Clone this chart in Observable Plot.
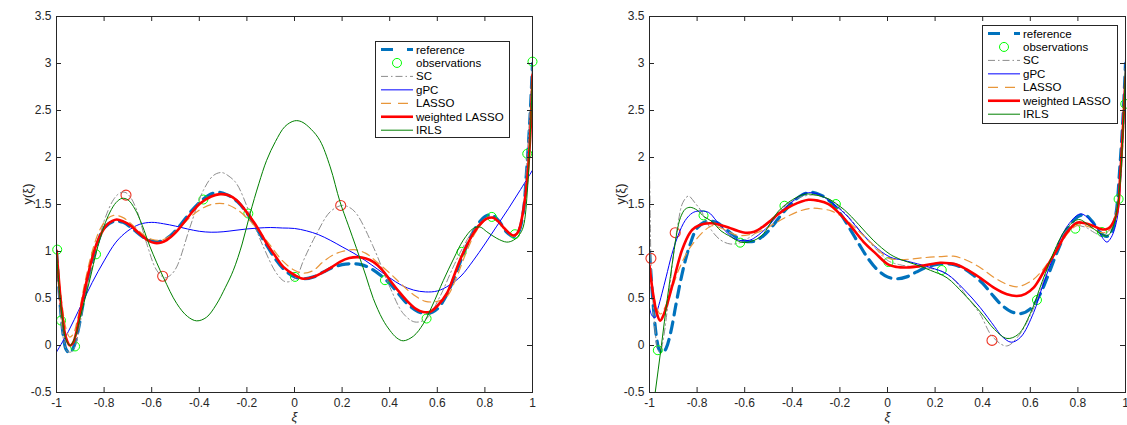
<!DOCTYPE html>
<html><head><meta charset="utf-8">
<script src="https://cdn.jsdelivr.net/npm/d3@7"></script>
<script src="https://cdn.jsdelivr.net/npm/@observablehq/plot@0.6"></script>
<style>
body{margin:0;background:#fff;}
#wrap{position:relative;width:1127px;height:425px;overflow:hidden;background:#fff;}
#wrap svg{position:absolute;top:0;}
</style></head><body><div id="wrap"></div>
<script>
const xTicks = [-1,-0.8,-0.6,-0.4,-0.2,0,0.2,0.4,0.6,0.8,1];
const yTicks = [-0.5,0,0.5,1,1.5,2,2.5,3,3.5];
const legendLabels = ["reference","observations","SC","gPC","LASSO","weighted LASSO","IRLS"];

// reference function (same in both panels)
const reference = [[-1,1.0],[-0.99,0.62],[-0.98,0.3],[-0.97,0.08],[-0.96,-0.04],[-0.945,-0.08],[-0.93,-0.03],[-0.91,0.15],[-0.89,0.42],[-0.87,0.68],[-0.85,0.9],[-0.83,1.07],[-0.8,1.25],[-0.76,1.32],[-0.72,1.31],[-0.68,1.24],[-0.64,1.16],[-0.6,1.11],[-0.56,1.11],[-0.52,1.17],[-0.48,1.28],[-0.44,1.41],[-0.4,1.52],[-0.36,1.6],[-0.32,1.63],[-0.28,1.6],[-0.24,1.53],[-0.2,1.41],[-0.16,1.25],[-0.12,1.08],[-0.08,0.92],[-0.04,0.8],[0,0.73],[0.04,0.71],[0.08,0.73],[0.12,0.78],[0.16,0.83],[0.2,0.86],[0.24,0.87],[0.28,0.86],[0.32,0.82],[0.36,0.75],[0.4,0.66],[0.44,0.54],[0.48,0.43],[0.52,0.36],[0.56,0.34],[0.6,0.39],[0.64,0.54],[0.68,0.78],[0.72,1.04],[0.76,1.25],[0.8,1.37],[0.83,1.39],[0.86,1.32],[0.89,1.21],[0.92,1.16],[0.94,1.2],[0.96,1.4],[0.975,1.85],[0.99,2.45],[1,3.0]];

// left panel
const leftObs = [[-0.997,1.02],[-0.981,0.266],[-0.922,-0.01],[-0.834,0.97],[-0.383,1.553],[-0.194,1.404],[0.002,0.73],[0.38,0.695],[0.555,0.287],[0.702,0.996],[0.829,1.368],[0.926,1.184],[0.978,2.04],[1.0,3.02]];
const leftOutliers = [[-0.708,1.60],[-0.554,0.737],[0.194,1.49]];
const leftSC = [[-1,1.02],[-0.99,0.55],[-0.981,0.27],[-0.97,0.06],[-0.955,-0.06],[-0.94,-0.07],[-0.922,-0.01],[-0.9,0.25],[-0.87,0.64],[-0.834,0.97],[-0.803,1.3],[-0.761,1.55],[-0.735,1.62],[-0.712,1.63],[-0.69,1.58],[-0.663,1.44],[-0.621,1.085],[-0.579,0.8],[-0.545,0.72],[-0.52,0.75],[-0.495,0.836],[-0.439,1.26],[-0.383,1.65],[-0.34,1.81],[-0.306,1.84],[-0.275,1.8],[-0.243,1.72],[-0.187,1.40],[-0.131,1.05],[-0.075,0.766],[-0.04,0.68],[-0.01,0.69],[0.015,0.76],[0.037,0.9],[0.093,1.19],[0.149,1.42],[0.198,1.49],[0.23,1.47],[0.261,1.40],[0.331,1.05],[0.401,0.62],[0.457,0.34],[0.506,0.25],[0.555,0.287],[0.611,0.52],[0.667,0.836],[0.709,1.05],[0.75,1.22],[0.8,1.35],[0.83,1.37],[0.88,1.25],[0.92,1.17],[0.95,1.3],[0.978,2.04],[1,3.02]];
const leftGPC = [[-1,-0.07],[-0.95,0.15],[-0.9,0.41],[-0.85,0.67],[-0.8,0.9],[-0.75,1.1],[-0.7,1.22],[-0.65,1.29],[-0.6,1.31],[-0.55,1.295],[-0.5,1.27],[-0.45,1.24],[-0.4,1.215],[-0.35,1.205],[-0.3,1.21],[-0.25,1.225],[-0.2,1.24],[-0.15,1.25],[-0.1,1.255],[-0.05,1.25],[0,1.245],[0.05,1.22],[0.1,1.18],[0.15,1.12],[0.2,1.05],[0.25,0.98],[0.3,0.9],[0.35,0.81],[0.4,0.72],[0.45,0.64],[0.5,0.59],[0.55,0.57],[0.6,0.58],[0.65,0.64],[0.7,0.74],[0.75,0.9],[0.8,1.08],[0.85,1.27],[0.9,1.46],[0.95,1.66],[1,1.865]];
const leftLASSO = [[-1,0.95],[-0.98,0.5],[-0.96,0.18],[-0.945,0.09],[-0.93,0.12],[-0.91,0.3],[-0.88,0.68],[-0.85,1.0],[-0.82,1.22],[-0.79,1.34],[-0.76,1.385],[-0.72,1.36],[-0.68,1.28],[-0.64,1.19],[-0.6,1.13],[-0.56,1.12],[-0.52,1.17],[-0.48,1.26],[-0.44,1.36],[-0.4,1.44],[-0.35,1.5],[-0.3,1.51],[-0.25,1.46],[-0.2,1.36],[-0.15,1.22],[-0.1,1.06],[-0.05,0.9],[0,0.8],[0.04,0.77],[0.08,0.8],[0.12,0.89],[0.16,0.96],[0.2,1.0],[0.25,1.02],[0.3,0.98],[0.35,0.88],[0.4,0.77],[0.45,0.65],[0.5,0.54],[0.55,0.47],[0.6,0.47],[0.64,0.52],[0.68,0.72],[0.72,0.98],[0.76,1.2],[0.8,1.33],[0.83,1.36],[0.87,1.27],[0.9,1.19],[0.92,1.16],[0.94,1.2],[0.96,1.4],[0.98,1.9],[1,2.85]];
const leftWLASSO = [[-1,1.01],[-0.99,0.7],[-0.978,0.375],[-0.96,0.08],[-0.943,0.0],[-0.93,0.03],[-0.915,0.16],[-0.9,0.36],[-0.873,0.69],[-0.85,0.93],[-0.831,1.085],[-0.81,1.2],[-0.789,1.28],[-0.765,1.325],[-0.747,1.34],[-0.72,1.32],[-0.691,1.28],[-0.66,1.21],[-0.635,1.155],[-0.61,1.11],[-0.586,1.09],[-0.56,1.095],[-0.537,1.12],[-0.5,1.2],[-0.467,1.3],[-0.43,1.42],[-0.397,1.51],[-0.35,1.585],[-0.313,1.61],[-0.28,1.6],[-0.243,1.545],[-0.187,1.37],[-0.15,1.23],[-0.117,1.085],[-0.08,0.95],[-0.047,0.836],[0,0.75],[0.037,0.71],[0.08,0.73],[0.121,0.78],[0.16,0.84],[0.191,0.89],[0.23,0.93],[0.268,0.94],[0.3,0.925],[0.331,0.89],[0.37,0.8],[0.401,0.695],[0.44,0.57],[0.471,0.48],[0.51,0.39],[0.541,0.357],[0.57,0.36],[0.6,0.42],[0.64,0.553],[0.67,0.74],[0.695,0.907],[0.725,1.07],[0.751,1.19],[0.78,1.29],[0.808,1.35],[0.835,1.36],[0.86,1.31],[0.877,1.26],[0.9,1.2],[0.919,1.17],[0.935,1.19],[0.947,1.26],[0.962,1.45],[0.976,1.72],[0.99,2.2],[1,2.88]];
const leftIRLS = [[-1,1.0],[-0.99,0.65],[-0.975,0.28],[-0.96,0.06],[-0.943,0.0],[-0.925,0.07],[-0.9,0.3],[-0.88,0.5],[-0.859,0.71],[-0.83,1.02],[-0.8,1.27],[-0.775,1.42],[-0.75,1.52],[-0.725,1.565],[-0.7,1.55],[-0.67,1.45],[-0.64,1.28],[-0.607,1.05],[-0.55,0.72],[-0.495,0.447],[-0.45,0.31],[-0.411,0.262],[-0.37,0.3],[-0.33,0.43],[-0.29,0.62],[-0.257,0.8],[-0.22,1.08],[-0.187,1.4],[-0.15,1.72],[-0.117,1.97],[-0.08,2.17],[-0.04,2.33],[0,2.39],[0.03,2.38],[0.07,2.3],[0.107,2.18],[0.15,1.9],[0.191,1.53],[0.226,1.28],[0.261,1.03],[0.3,0.74],[0.331,0.5],[0.37,0.28],[0.401,0.16],[0.43,0.08],[0.457,0.05],[0.5,0.1],[0.541,0.23],[0.58,0.43],[0.625,0.69],[0.67,0.93],[0.709,1.12],[0.751,1.245],[0.78,1.26],[0.808,1.21],[0.85,1.14],[0.892,1.1],[0.92,1.12],[0.945,1.18],[0.961,1.26],[0.98,1.7],[1,2.9]];

// right panel
const rightObs = [[-0.965,-0.05],[-0.773,1.384],[-0.619,1.094],[-0.433,1.487],[-0.217,1.505],[0.004,0.888],[0.228,0.803],[0.628,0.484],[0.789,1.243],[0.901,1.207],[0.971,1.558],[0.999,2.57]];
const rightOutliers = [[-0.994,0.927],[-0.892,1.20],[0.439,0.054]];
const rightSC = [[-1,1.9],[-0.997,1.4],[-0.994,0.93],[-0.985,0.45],[-0.975,0.12],[-0.965,-0.05],[-0.955,-0.06],[-0.94,0.1],[-0.92,0.5],[-0.9,0.95],[-0.88,1.3],[-0.86,1.52],[-0.836,1.59],[-0.81,1.52],[-0.78,1.42],[-0.738,1.22],[-0.7,1.12],[-0.661,1.08],[-0.619,1.094],[-0.58,1.15],[-0.5,1.3],[-0.45,1.44],[-0.4,1.54],[-0.35,1.59],[-0.3,1.6],[-0.25,1.56],[-0.217,1.505],[-0.15,1.33],[-0.1,1.17],[-0.05,1.03],[0.004,0.9],[0.05,0.86],[0.1,0.84],[0.15,0.83],[0.2,0.81],[0.228,0.79],[0.28,0.7],[0.33,0.53],[0.389,0.335],[0.439,0.1],[0.5,-0.005],[0.55,0.1],[0.6,0.32],[0.628,0.484],[0.68,0.86],[0.73,1.15],[0.781,1.27],[0.83,1.26],[0.87,1.2],[0.907,1.165],[0.94,1.28],[0.971,1.558],[0.99,2.2],[1,3.0]];
const rightGPC = [[-1,0.4],[-0.99,0.32],[-0.976,0.296],[-0.965,0.39],[-0.948,0.55],[-0.93,0.73],[-0.906,0.97],[-0.88,1.17],[-0.85,1.33],[-0.82,1.41],[-0.794,1.43],[-0.752,1.416],[-0.72,1.33],[-0.682,1.22],[-0.645,1.14],[-0.612,1.115],[-0.58,1.12],[-0.556,1.15],[-0.5,1.27],[-0.458,1.4],[-0.4,1.53],[-0.346,1.62],[-0.29,1.61],[-0.24,1.53],[-0.178,1.4],[-0.12,1.23],[-0.06,1.07],[0.011,0.94],[0.06,0.91],[0.109,0.88],[0.18,0.83],[0.25,0.76],[0.32,0.6],[0.389,0.405],[0.45,0.2],[0.48,0.1],[0.52,0.035],[0.56,0.09],[0.614,0.35],[0.65,0.62],[0.698,0.95],[0.75,1.25],[0.81,1.4],[0.85,1.34],[0.88,1.25],[0.905,1.14],[0.922,1.1],[0.94,1.15],[0.964,1.34],[0.98,1.8],[1,3.05]];
const rightLASSO = [[-1,0.8],[-0.98,0.5],[-0.965,0.37],[-0.955,0.335],[-0.94,0.38],[-0.91,0.57],[-0.878,0.8],[-0.84,1.0],[-0.808,1.115],[-0.77,1.22],[-0.738,1.274],[-0.7,1.25],[-0.66,1.2],[-0.626,1.17],[-0.58,1.18],[-0.528,1.22],[-0.48,1.29],[-0.43,1.36],[-0.37,1.43],[-0.318,1.46],[-0.27,1.45],[-0.234,1.43],[-0.18,1.35],[-0.122,1.22],[-0.06,1.07],[0.004,0.93],[0.05,0.915],[0.1,0.92],[0.151,0.934],[0.22,0.945],[0.277,0.95],[0.33,0.91],[0.389,0.83],[0.45,0.72],[0.502,0.65],[0.545,0.625],[0.6,0.68],[0.642,0.775],[0.712,1.02],[0.76,1.2],[0.8,1.28],[0.85,1.26],[0.9,1.2],[0.93,1.22],[0.96,1.4],[0.98,1.85],[1,3.0]];
const rightWLASSO = [[-1,0.85],[-0.985,0.55],[-0.97,0.35],[-0.955,0.264],[-0.94,0.33],[-0.906,0.62],[-0.864,1.01],[-0.83,1.2],[-0.808,1.256],[-0.77,1.295],[-0.738,1.3],[-0.7,1.28],[-0.668,1.256],[-0.63,1.22],[-0.598,1.2],[-0.56,1.21],[-0.528,1.256],[-0.49,1.33],[-0.458,1.4],[-0.4,1.49],[-0.332,1.55],[-0.29,1.54],[-0.248,1.505],[-0.2,1.4],[-0.15,1.256],[-0.1,1.1],[-0.05,0.98],[0.004,0.86],[0.04,0.835],[0.081,0.83],[0.15,0.85],[0.221,0.88],[0.26,0.875],[0.292,0.86],[0.34,0.8],[0.389,0.72],[0.45,0.61],[0.502,0.545],[0.544,0.527],[0.58,0.55],[0.614,0.615],[0.66,0.8],[0.712,1.02],[0.75,1.19],[0.796,1.306],[0.83,1.3],[0.866,1.27],[0.895,1.24],[0.915,1.235],[0.935,1.26],[0.964,1.41],[0.978,1.82],[1,2.85]];
const rightIRLS = [[-1,-0.97],[-0.976,-0.5],[-0.95,0.0],[-0.925,0.5],[-0.9,0.95],[-0.885,1.2],[-0.87,1.36],[-0.85,1.45],[-0.829,1.47],[-0.8,1.44],[-0.77,1.37],[-0.738,1.32],[-0.7,1.22],[-0.668,1.17],[-0.612,1.097],[-0.57,1.11],[-0.528,1.17],[-0.458,1.43],[-0.4,1.55],[-0.346,1.61],[-0.3,1.6],[-0.248,1.56],[-0.18,1.44],[-0.122,1.29],[-0.06,1.12],[0.011,0.97],[0.06,0.91],[0.12,0.86],[0.18,0.8],[0.25,0.72],[0.32,0.55],[0.389,0.36],[0.45,0.17],[0.502,0.075],[0.55,0.12],[0.6,0.34],[0.65,0.68],[0.7,1.0],[0.75,1.24],[0.803,1.34],[0.85,1.27],[0.89,1.2],[0.922,1.165],[0.945,1.24],[0.97,1.55],[0.99,2.3],[1,3.0]];

const FONT = "'Liberation Sans', Arial, Helvetica, sans-serif";
const INK = "#262626";
const styles = [
  {stroke: "#0072BD", strokeWidth: 3.2, dash: "11,7", legendDash: "12,14"},
  {circle: true, stroke: "#00ff00"},
  {stroke: "#8c8c8c", strokeWidth: 1, dash: "7,3,1.5,3", legendDash: "7,3,1.5,3"},
  {stroke: "#0000ff", strokeWidth: 1},
  {stroke: "#E8963A", strokeWidth: 1.2, dash: "8,5", legendDash: "10,7"},
  {stroke: "#ff0000", strokeWidth: 2.6},
  {stroke: "#008000", strokeWidth: 1}
];
const OUTLIER = "#EE3322";
const W = 476, H = 376;

function lineMark(data, st) {
  return Plot.line(data, {x: d => d[0], y: d => d[1], curve: "catmull-rom", stroke: st.stroke,
    strokeWidth: st.strokeWidth, strokeDasharray: st.dash || null, clip: true});
}

function makePanel(p) {
  const svg = Plot.plot({
    width: p.width, height: 425,
    marginTop: 16, marginBottom: 33, marginLeft: 56, marginRight: p.width - 56 - W,
    style: {fontFamily: FONT, fontSize: "12px", color: INK, background: "white"},
    x: {domain: [-1, 1]},
    y: {domain: [-0.5, 3.5]},
    marks: [
      lineMark(p.ref, styles[0]),
      Plot.dot(p.obs, {x: d => d[0], y: d => d[1], r: 4.5, stroke: styles[1].stroke, strokeWidth: 1, fill: "none"}),
      Plot.dot(p.out, {x: d => d[0], y: d => d[1], r: 5, stroke: OUTLIER, strokeWidth: 1.1, fill: "none"}),
      lineMark(p.sc, styles[2]),
      lineMark(p.gpc, styles[3]),
      lineMark(p.lasso, styles[4]),
      lineMark(p.wlasso, styles[5]),
      lineMark(p.irls, styles[6]),
      Plot.frame({stroke: INK}),
      Plot.ruleX(xTicks, {x: d => d, insetTop: H - 5, stroke: INK}),
      Plot.ruleX(xTicks, {x: d => d, insetBottom: H - 5, stroke: INK}),
      Plot.ruleY(yTicks, {y: d => d, insetRight: W - 5, stroke: INK}),
      Plot.ruleY(yTicks, {y: d => d, insetLeft: W - 5, stroke: INK}),
      Plot.axisX({ticks: xTicks, tickSize: 0, tickPadding: 6, tickFormat: d => String(d), label: null, fill: INK, fontSize: 12}),
      Plot.axisY({ticks: yTicks, tickSize: 0, tickPadding: 5, tickFormat: d => String(d), label: null, fill: INK, fontSize: 12}),
      Plot.text(["y(ξ)"], {text: d => d, frameAnchor: "left", dx: -29, rotate: -90, fill: INK, fontSize: 13}),
      Plot.text(["ξ"], {text: d => d, frameAnchor: "bottom", dy: 28, fill: INK, fontSize: 13, fontStyle: "italic"})
    ]
  });
  svg.style.left = p.left + "px";
  // legend
  const g = d3.select(svg).append("g").attr("font-family", FONT).attr("font-size", 11.5).attr("text-anchor", "start");
  const L = p.legend;
  g.append("rect").attr("x", L.x + 0.5).attr("y", L.y + 0.5).attr("width", L.w).attr("height", L.h)
    .attr("fill", "white").attr("stroke", INK).attr("stroke-width", 1);
  legendLabels.forEach((lab, i) => {
    const y = L.y + 8.5 + i * 13.45;
    const st = styles[i];
    if (st.circle) {
      g.append("circle").attr("cx", L.x + 22).attr("cy", y).attr("r", 4.5).attr("fill", "none").attr("stroke", st.stroke);
    } else {
      g.append("line").attr("x1", L.x + 6).attr("x2", L.x + 38).attr("y1", y).attr("y2", y)
        .attr("stroke", st.stroke).attr("stroke-width", st.strokeWidth)
        .attr("stroke-dasharray", st.legendDash || null);
    }
    g.append("text").attr("x", L.x + 41).attr("y", y).attr("dy", "0.35em").attr("fill", "#000")
      .attr("text-anchor", "start").text(lab);
  });
  return svg;
}

const wrap = document.getElementById("wrap");
wrap.appendChild(makePanel({left: 0, width: 560, ref: reference, obs: leftObs, out: leftOutliers,
  sc: leftSC, gpc: leftGPC, lasso: leftLASSO, wlasso: leftWLASSO, irls: leftIRLS,
  legend: {x: 375, y: 41, w: 134, h: 96}}));
wrap.appendChild(makePanel({left: 593, width: 534, ref: reference, obs: rightObs, out: rightOutliers,
  sc: rightSC, gpc: rightGPC, lasso: rightLASSO, wlasso: rightWLASSO, irls: rightIRLS,
  legend: {x: 389, y: 25, w: 135, h: 98}}));
</script>
</body></html>
